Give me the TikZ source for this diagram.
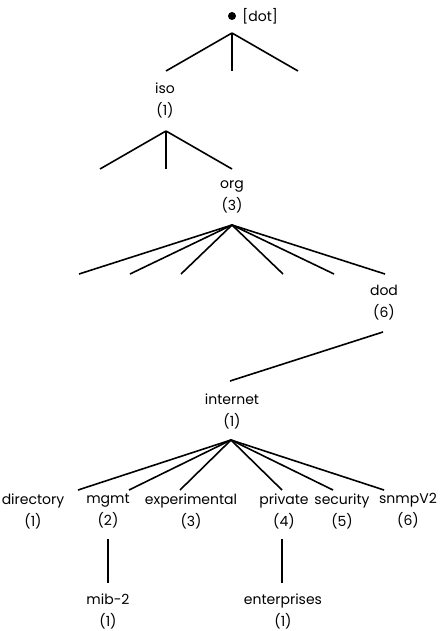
\documentclass[tikz,border=0pt]{standalone}
\usepackage{fontspec}
\setmainfont{Poppins}
\usetikzlibrary{positioning}

\begin{document}
\begin{tikzpicture}[
        x = 1pt, y = -1pt,
        oidbox/.style = {
            align       = center,
            inner sep   = 0pt,
            font        = \fontsize{14}{22}\selectfont
        },
        branch/.style = {line width = 1.6pt}
    ]
    \useasboundingbox (0, 0) rectangle (447, 631);

    % root
    \node[circle, fill, inner sep = 0pt, minimum size = 8pt] (root) at (232, 16) {};
    \node[oidbox, right = 6pt of root] (rootname) {[dot]};
    \coordinate (rootfork) at (232, 33);

    % labelled nodes
    \node[oidbox] (iso) at (165, 100.5) {iso\\(1)};
    \node[oidbox] (org) at (232, 197) {org\\(3)};
    \node[oidbox] (dod) at (384, 303) {dod\\(6)};
    \node[oidbox] (internet) at (232, 411.5) {internet\\(1)};

    \node[oidbox] (directory) at (33, 511) {directory\\(1)};
    \node[oidbox] (mgmt) at (108, 511) {mgmt\\(2)};
    \node[oidbox] (experimental) at (191, 511) {experimental\\(3)};
    \node[oidbox] (private) at (284, 511) {private\\(4)};
    \node[oidbox] (security) at (342, 511) {security\\(5)};
    \node[oidbox] (snmpv2) at (408, 511) {snmpV2\\(6)};

    \node[oidbox] (mib2) at (108, 611) {mib-2\\(1)};
    \node[oidbox] (enterprises) at (283, 611) {enterprises\\(1)};

    % root -> iso
    \coordinate (rootend2) at (232, 71);
    \coordinate (rootend3) at (298, 71);
    \draw[branch] (rootfork) -- (166, 71) coordinate (isotop);
    \draw[branch] (rootfork) -- (rootend2);
    \draw[branch] (rootfork) -- (rootend3);

    % iso -> org
    \coordinate (isofork) at (166, 131);
    \coordinate (isoend1) at (100, 169);
    \coordinate (isoend2) at (166, 169);
    \coordinate (orgtop) at (232, 169);
    \draw[branch] (isofork) -- (isoend1);
    \draw[branch] (isofork) -- (isoend2);
    \draw[branch] (isofork) -- (orgtop);

    % org -> dod
    \coordinate (orgfork) at (232, 225);
    \foreach \x [count = \i] in {79, 130, 181, 283, 334} {
        \coordinate (orgend\i) at (\x, 274);
        \draw[branch] (orgfork) -- (orgend\i);
    }
    \coordinate (dodtop) at (385, 274);
    \draw[branch] (orgfork) -- (dodtop);

    % dod -> internet
    \coordinate (dodfork) at (383, 332);
    \coordinate (internettop) at (230, 381);
    \draw[branch] (dodfork) -- (internettop);

    % internet -> children
    \coordinate (internetfork) at (231, 440);
    \foreach \x/\name in {78/directory, 129/mgmt, 180/experimental,
                          282/private, 333/security, 384/snmpv2} {
        \coordinate (\name top) at (\x, 490);
        \draw[branch] (internetfork) -- (\name top);
    }

    % mgmt -> mib-2, private -> enterprises
    \coordinate (mgmtfork) at (108, 539);
    \coordinate (mibtop) at (108, 583);
    \draw[branch] (mgmtfork) -- (mibtop);
    \coordinate (privatefork) at (282, 539);
    \coordinate (enterprisestop) at (282, 583);
    \draw[branch] (privatefork) -- (enterprisestop);
\end{tikzpicture}
\end{document}
